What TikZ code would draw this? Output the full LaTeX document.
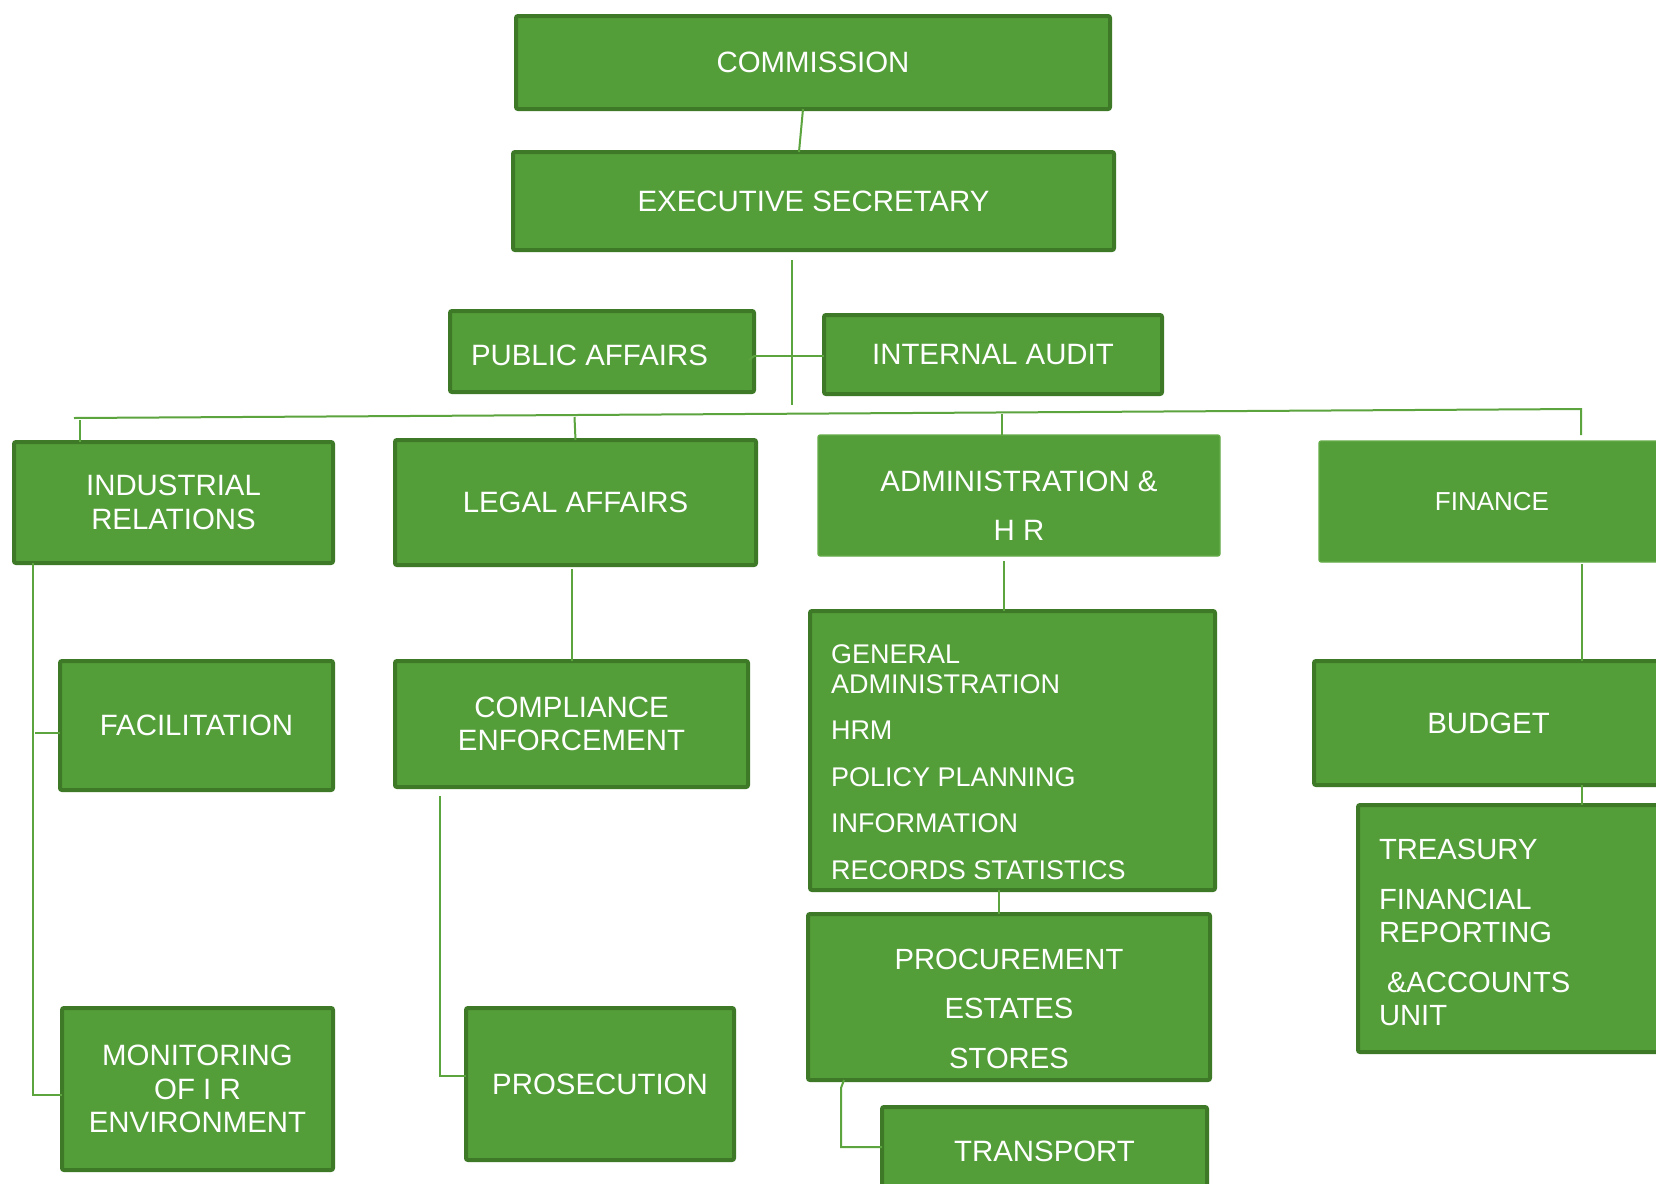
\documentclass[tikz,border=0pt]{standalone}
\usepackage{fontspec}
\setmainfont{Liberation Sans}
\definecolor{ggreen}{RGB}{84,158,58}
\definecolor{dkgreen}{RGB}{61,121,39}
\definecolor{lgreen}{RGB}{92,164,62}
\definecolor{edgegreen}{RGB}{100,172,72}
\tikzset{
  % a box given by its outer corners (x1,y1) and (x2,y2), in pixel units
  span/.style n args={4}{at={({(#1+#3)/2},{(#2+#4)/2})},
    minimum width={(#3-#1)*0.5pt-2pt}, minimum height={(#4-#2)*0.5pt-2pt}},
  unit/.style={draw=dkgreen, line width=2pt, fill=ggreen, rounded corners=1pt,
    inner sep=0pt, outer sep=0pt, text=white, align=center,
    font=\fontsize{14.7}{16.8}\selectfont},
  flatunit/.style={draw=edgegreen, line width=0.6pt, fill=ggreen, rounded corners=1pt,
    inner sep=0pt, outer sep=0pt, text=white, align=center,
    font=\fontsize{14.7}{16.8}\selectfont},
  caption/.style={text=white, inner sep=0pt, outer sep=0pt},
  link/.style={draw=lgreen, line width=1pt},
}
\begin{document}
\begin{tikzpicture}[x=0.5pt,y=-0.5pt]
\clip (0,0) rectangle (1656,1184);
\fill[white] (0,0) rectangle (1656,1184);

% top of the hierarchy
\node[unit, span={514}{14}{1112}{111}] (com) {COMMISSION};
\node[unit, span={511}{150}{1116}{252}] (exe) {EXECUTIVE SECRETARY};
\node[unit, span={448}{309}{756}{394}] (pa) {};
\node[caption, anchor=west, font=\fontsize{14.7}{16.8}\selectfont] (paT) at (471,355) {PUBLIC AFFAIRS};
\node[unit, span={822}{313}{1164}{396}] (ia) {INTERNAL AUDIT};

% departments
\node[unit, span={12}{440}{335}{565}] (ir) {INDUSTRIAL\\RELATIONS};
\node[unit, span={393}{438}{758}{567}] (leg) {LEGAL AFFAIRS};
\node[flatunit, span={816}{433}{1222}{558}] (adm) {};
\node[caption, align=center, font=\fontsize{14.7}{24.3}\selectfont] (admT) at (1019,506) {ADMINISTRATION \&\\H R};
\node[flatunit, span={1317}{439}{1667}{564}, font=\fontsize{13}{15}\selectfont] (fin) {FINANCE};

% units
\node[unit, span={58}{659}{335}{792}] (fac) {FACILITATION};
\node[unit, span={393}{659}{750}{789}] (comp) {COMPLIANCE\\ENFORCEMENT};
\node[unit, span={808}{609}{1217}{892}] (ga) {};
\node[caption, anchor=west, align=left, font=\fontsize{13.5}{15}\selectfont] (gaT) at (831,762)
  {GENERAL\\ADMINISTRATION\\[8.25pt]HRM\\[8.25pt]POLICY PLANNING\\[8.25pt]INFORMATION\\[8.25pt]RECORDS STATISTICS};
\node[unit, span={1312}{659}{1665}{787}] (bud) {BUDGET};
\node[unit, span={1356}{803}{1680}{1054}] (tre) {};
\node[caption, anchor=west, align=left, font=\fontsize{14.6}{16.75}\selectfont] (treT) at (1379,932.5)
  {TREASURY\\[8.25pt]FINANCIAL\\REPORTING\\[8pt]\hspace*{4pt}\&ACCOUNTS\\UNIT};
\node[unit, span={60}{1006}{335}{1172}] (mon) {MONITORING\\OF I R\\ENVIRONMENT};
\node[unit, span={464}{1006}{736}{1162}] (pro) {PROSECUTION};
\node[unit, span={806}{912}{1212}{1082}] (pcr) {};
\node[caption, align=center, font=\fontsize{14.6}{24.75}\selectfont] (pcrT) at (1009,1008.6) {PROCUREMENT\\ESTATES\\STORES};
\node[unit, span={880}{1105}{1209}{1197}] (trn) {TRANSPORT};

% connectors
\coordinate (esEnd) at (792,405);
\coordinate (busL) at (74,418);
\coordinate (busR) at (1581,409);
\draw[link] ([xshift=-5pt]com.south) -- ([xshift=-7.25pt]exe.north);
\draw[link] ([xshift=-10.75pt,yshift=-5pt]exe.south) -- (esEnd);
\draw[link] ([yshift=-2.25pt]pa.east) -- ([yshift=-0.75pt]ia.west);
\draw[link] ([yshift=-2.25pt]pa.east) -- ++(-5,4);
\draw[link] (busL) -- (busR) -- ([xshift=44.5pt,yshift=3pt]fin.north);
\draw[link] ([xshift=-46.75pt]ir.north) -- ++(0,-22);
\draw[link] (leg.north) -- ++(-1,-23);
\draw[link] ([xshift=-8.5pt]adm.north) -- ++(0,-21);
\draw[link] ([xshift=-1.75pt,yshift=-2pt]leg.south) -- ([xshift=0.25pt]comp.north);
\draw[link] ([xshift=-7.5pt,yshift=-2.5pt]adm.south) -- ([xshift=-4.25pt]ga.north);
\draw[link] ([xshift=45pt,yshift=-1pt]fin.south) -- ([xshift=46.75pt]bud.north);
\draw[link] ([xshift=46.75pt]bud.south) -- ([xshift=32pt]tre.north);
\draw[link] ([xshift=-70.25pt]ir.south) |- ([yshift=-3pt]mon.west);
\draw[link] ([yshift=-3.75pt]fac.west) -- ++(-25,0);
\draw[link] ([xshift=-65.75pt,yshift=-4.5pt]comp.south) |- ([yshift=4pt]pro.west);
\draw[link] ([xshift=-6.75pt]ga.south) -- ([xshift=-5pt]pcr.north);
\draw[link] ([xshift=-82.5pt]pcr.south) -- ++(-3,8) |- ([yshift=2pt]trn.west);
\end{tikzpicture}
\end{document}
